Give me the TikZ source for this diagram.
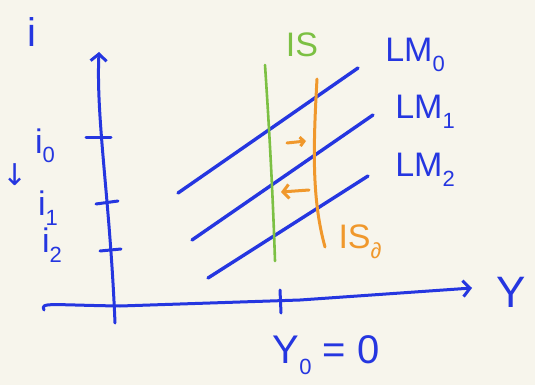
\documentclass[tikz,border=0pt]{standalone}
\usepackage{fontspec}
\setmainfont{Liberation Sans}
\newfontfamily\symfont{DejaVu Sans}
\usetikzlibrary{arrows.meta}
\definecolor{bg}{HTML}{F7F5EC}
\definecolor{pen}{HTML}{2536E0}
\definecolor{isgreen}{HTML}{7CC043}
\definecolor{isorange}{HTML}{F0982C}
\newcommand{\lowsub}[1]{\raisebox{-0.28em}{\fontsize{22}{22}\selectfont #1}}
\tikzset{
  ax/.style={pen, line width=3pt, line cap=round, line join=round},
  lm/.style={pen, line width=3.4pt, line cap=round},
  isl/.style={isgreen, line width=2.6pt, line cap=round},
  iso/.style={isorange, line width=3pt, line cap=round},
  lbl/.style={pen, inner sep=0pt, font=\fontsize{34}{34}\selectfont},
  tip/.style={-{Straight Barb[length=7pt,width=16pt,line width=3pt]}}
}
\begin{document}
\begin{tikzpicture}[x=1pt,y=-1pt]
\fill[bg] (0,0) rectangle (535,385);
\useasboundingbox (0,0) rectangle (535,385);
% axes
\coordinate (yb) at (115,323);
\coordinate (yt) at (99,52);
\coordinate (xl) at (44,310);
\coordinate (xr) at (472,288);
\draw[ax,tip] (yb) .. controls (110,200) and (96,120) .. (yt);
\draw[ax,tip] (xl) .. controls (40,302) and (50,305) .. (120,306) -- (300,300) -- (xr);
% ticks
\coordinate (t0a) at (86,137); \coordinate (t0b) at (111,137);
\coordinate (t1a) at (96,204); \coordinate (t1b) at (118,201);
\coordinate (t2a) at (100,251); \coordinate (t2b) at (121,249);
\coordinate (tya) at (280,290); \coordinate (tyb) at (281,313);
\draw[ax] (t0a) -- (t0b);
\draw[ax] (t1a) -- (t1b);
\draw[ax] (t2a) -- (t2b);
\draw[ax] (tya) -- (tyb);
% LM curves
\coordinate (lm0a) at (178,193); \coordinate (lm0b) at (358,68);
\coordinate (lm1a) at (192,240); \coordinate (lm1b) at (373,115);
\coordinate (lm2a) at (208,278); \coordinate (lm2b) at (368,176);
\draw[lm] (lm0a) -- (lm0b);
\draw[lm] (lm1a) -- (lm1b);
\draw[lm] (lm2a) -- (lm2b);
% IS curves
\coordinate (isa) at (265,65); \coordinate (isb) at (275,261);
\draw[isl] (isa) .. controls (270,140) and (273,200) .. (isb);
\coordinate (ioa) at (317,79); \coordinate (iob) at (325,247);
\draw[iso] (ioa) .. controls (313,150) and (312,200) .. (iob);
% shift arrows
\coordinate (ra) at (287,143); \coordinate (rb) at (306,141);
\draw[iso, -{Straight Barb[length=4pt,width=9pt,line width=3pt]}] (ra) -- (rb);
\coordinate (la) at (309,190); \coordinate (lb) at (281,192);
\draw[iso, -{Straight Barb[length=6pt,width=14pt,line width=3pt]}] (la) -- (lb);
% labels
\node[lbl, font=\fontsize{40}{40}\selectfont] (li) at (32,32) {i};
\node[lbl] (li0) at (45,146) {i\lowsub{0}};
\node[lbl, font=\symfont\fontsize{30}{30}\selectfont] (ld) at (15,175) {↓};
\node[lbl] (li1) at (48,208) {i\lowsub{1}};
\node[lbl] (li2) at (52,245) {i\lowsub{2}};
\node[lbl, font=\fontsize{44}{44}\selectfont] (lY) at (511,292) {Y};
\node[lbl, font=\fontsize{40}{40}\selectfont] (lY0) at (326,355) {Y\lowsub{0} = 0};
\node[lbl] (lLM0) at (415,55) {LM\lowsub{0}};
\node[lbl] (lLM1) at (425,112) {LM\lowsub{1}};
\node[lbl] (lLM2) at (425,170) {LM\lowsub{2}};
\node[lbl, isgreen] (lIS) at (302,45) {IS};
\node[lbl, isorange] (lIS1) at (360,242) {IS\lowsub{∂}};
\end{tikzpicture}
\end{document}
